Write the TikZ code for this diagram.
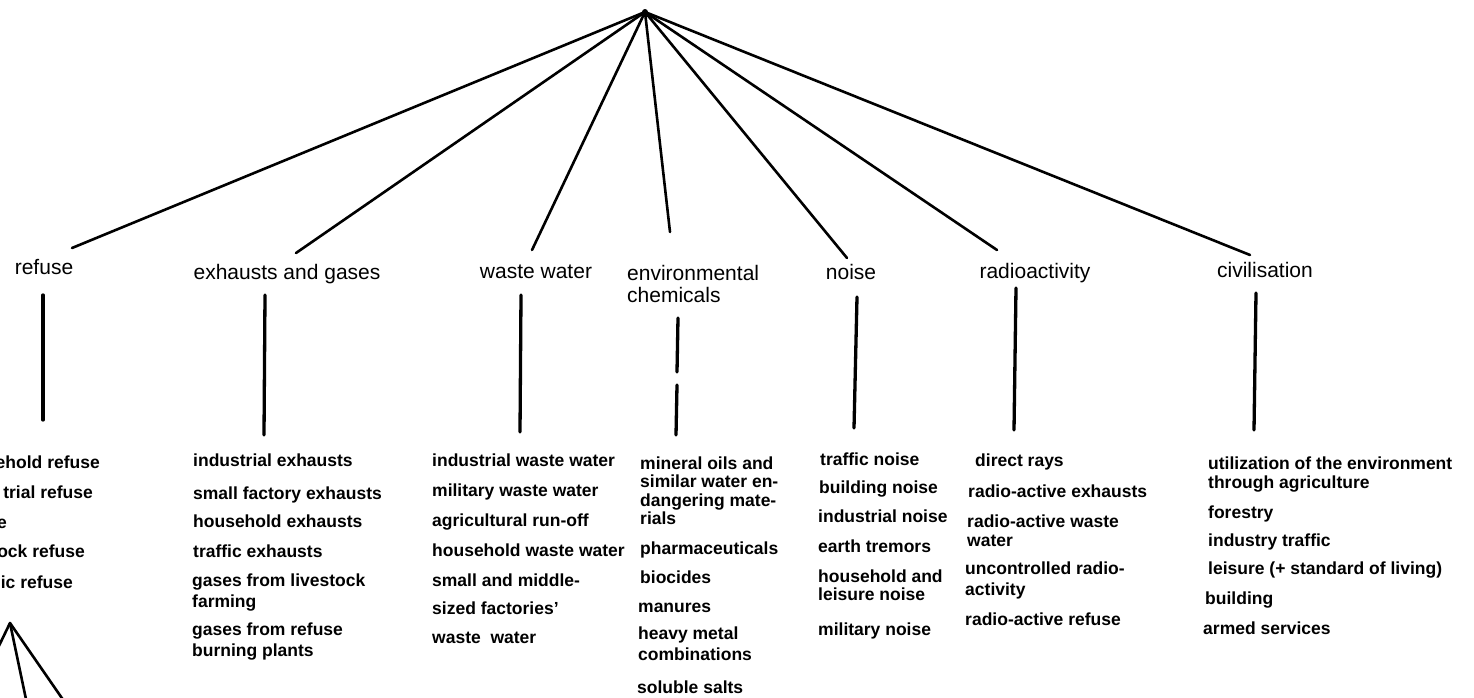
\documentclass[tikz,border=0pt]{standalone}
\usepackage{fontspec}
\setmainfont{Liberation Sans}
\begin{document}
\begin{tikzpicture}[x=1pt,y=-1pt,
  branch/.style={line width=2.6pt,line cap=round},
  stem/.style={line width=3.3pt,line cap=round},
  cat/.style={inner sep=0pt,font=\fontsize{21}{24}\selectfont},
  item/.style={inner sep=0pt,anchor=base west,align=left,
    font=\bfseries\fontsize{17.5}{21.5}\selectfont},
  frag/.style={inner sep=0pt,anchor=base east,
    font=\bfseries\fontsize{17.5}{21.5}\selectfont}]
\clip (0,0) rectangle (1474,697);
\fill[white] (0,0) rectangle (1474,697);

% root of the tree
\coordinate (root) at (645,12);
\fill (root) circle (3pt);

% category labels (multi-line nodes are placed by their last baseline)
\node[cat,anchor=base] (refuse) at (44,274) {refuse};
\node[cat,anchor=base] (exhaust) at (287,279) {exhausts and gases};
\node[cat,anchor=base] (waste) at (536,278) {waste water};
\node[cat,anchor=base west,align=left] (chem) at (627,302) {environmental\\[-2pt]chemicals};
\node[cat,anchor=base] (noise) at (851,279) {noise};
\node[cat,anchor=base] (radio) at (1035,278) {radioactivity};
\node[cat,anchor=base] (civil) at (1265,277) {civilisation};

% upper ends of the branches
\coordinate (refuse-in) at (72,248);
\coordinate (exhaust-in) at (296,253);
\coordinate (waste-in) at (532,250);
\coordinate (chem-in) at (670,232);
\coordinate (noise-in) at (847,258);
\coordinate (radio-in) at (997,250);
\coordinate (civil-in) at (1250,255);

\foreach \c in {refuse,exhaust,waste,chem,noise,radio,civil}
  \draw[branch] (root) -- (\c-in);

% stems below the labels
\coordinate (refuse-a) at (43,295);   \coordinate (refuse-b) at (43,420);
\coordinate (exhaust-a) at (265,295); \coordinate (exhaust-b) at (264,435);
\coordinate (waste-a) at (521,295);   \coordinate (waste-b) at (520,432);
\coordinate (chem-a) at (678,318);    \coordinate (chem-b) at (677,372);
\coordinate (chem-c) at (677,385);    \coordinate (chem-d) at (676,435);
\coordinate (noise-a) at (857,297);   \coordinate (noise-b) at (854,428);
\coordinate (radio-a) at (1016,288);  \coordinate (radio-b) at (1014,430);
\coordinate (civil-a) at (1256,293);  \coordinate (civil-b) at (1254,430);

\foreach \a/\b in {refuse-a/refuse-b,exhaust-a/exhaust-b,waste-a/waste-b,
  chem-a/chem-b,chem-c/chem-d,noise-a/noise-b,radio-a/radio-b,civil-a/civil-b}
  \draw[stem] (\a) -- (\b);

% refuse
\node[frag] (r1) at (100,468) {ehold refuse};
\node[frag] (r2) at (93,498) {trial refuse};
\node[frag] (r3) at (7,528) {e};
\node[frag] (r4) at (85,557) {ock refuse};
\node[frag] (r5) at (73,588) {ic refuse};

% exhausts and gases
\node[item] (e1) at (193,466) {industrial exhausts};
\node[item] (e2) at (193,499) {small factory exhausts};
\node[item] (e3) at (193,527) {household exhausts};
\node[item] (e4) at (193,557) {traffic exhausts};
\node[item] (e5) at (192,607.5) {gases from livestock\\farming};
\node[item] (e6) at (192,656.5) {gases from refuse\\burning plants};

% waste water
\node[item] (w1) at (432,466) {industrial waste water};
\node[item] (w2) at (432,496) {military waste water};
\node[item] (w3) at (432,526) {agricultural run-off};
\node[item] (w4) at (432,556) {household waste water};
\node[item] (w5) at (432,643) {small and middle-\\[7pt]sized factories'\\[7pt]waste\ \ water};

% environmental chemicals
\node[item,font=\bfseries\fontsize{17.5}{18.5}\selectfont] (c1) at (640,524.5)
  {mineral oils and\\similar water en-\\dangering mate-\\rials};
\node[item] (c2) at (640,554) {pharmaceuticals};
\node[item] (c3) at (640,583) {biocides};
\node[item] (c4) at (638,612) {manures};
\node[item] (c5) at (638,660.5) {heavy metal\\combinations};
\node[item] (c6) at (637,693) {soluble salts};

% noise
\node[item] (n1) at (820,465) {traffic noise};
\node[item] (n2) at (819,493) {building noise};
\node[item] (n3) at (818,522) {industrial noise};
\node[item] (n4) at (818,552) {earth tremors};
\node[item,font=\bfseries\fontsize{17.5}{18}\selectfont] (n5) at (818,600) {household and\\leisure noise};
\node[item] (n6) at (818,635) {military noise};

% radioactivity
\node[item] (a1) at (975,466) {direct rays};
\node[item] (a2) at (968,497) {radio-active exhausts};
\node[item,font=\bfseries\fontsize{17.5}{19}\selectfont] (a3) at (967,546) {radio-active waste\\water};
\node[item] (a4) at (965,595.5) {uncontrolled radio-\\activity};
\node[item] (a5) at (965,625) {radio-active refuse};

% civilisation
\node[item,font=\bfseries\fontsize{17.5}{19}\selectfont] (v1) at (1208,488)
  {utilization of the environment\\through agriculture};
\node[item] (v2) at (1208,518) {forestry};
\node[item] (v3) at (1208,546) {industry traffic};
\node[item] (v4) at (1208,574) {leisure (+ standard of living)};
\node[item] (v5) at (1205,604) {building};
\node[item] (v6) at (1203,634) {armed services};

% lower branching under the refuse column
\coordinate (fan) at (10,623);
\coordinate (fan-l) at (-4,652);
\coordinate (fan-m) at (27,704);
\coordinate (fan-r) at (66,704);
\foreach \t in {fan-l,fan-m,fan-r}
  \draw[branch] (fan) -- (\t);
\end{tikzpicture}
\end{document}
